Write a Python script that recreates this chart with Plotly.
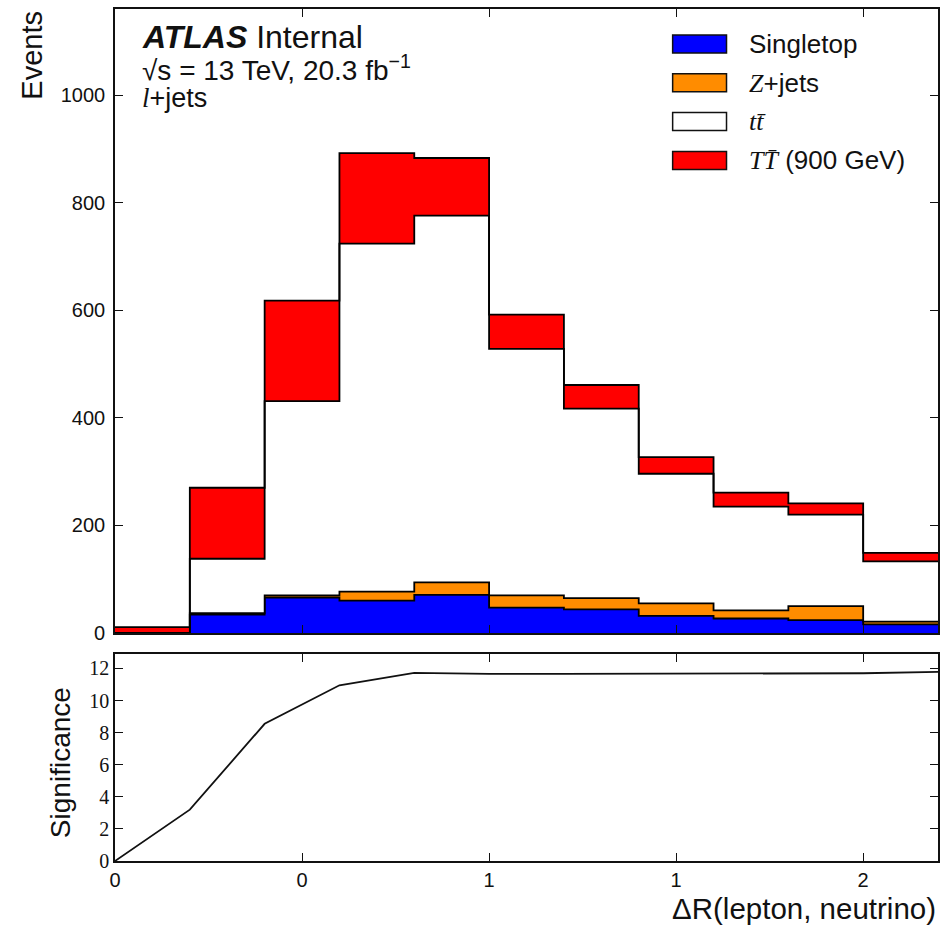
import numpy as np
import plotly.graph_objects as go

# Binning in Delta R(lepton, neutrino)
bin_edges = [0.0, 0.2, 0.4, 0.6, 0.8, 1.0, 1.2, 1.4, 1.6, 1.8, 2.0, 2.2]

# Per-bin event yields, stacked bottom to top
singletop = [0, 34, 66, 60, 71, 47, 44, 32, 27, 24, 16]
zjets = [0, 3, 4, 17, 23, 23, 21, 23, 15, 26, 5]
ttbar = [0, 101, 361, 647, 682, 458, 352, 241, 193, 170, 112]
signal_tt900 = [11, 132, 187, 168, 107, 64, 44, 31, 26, 21, 16]

# Significance scan evaluated at the bin edges
sig_x = [0.0, 0.2, 0.4, 0.6, 0.8, 1.0, 1.2, 1.4, 1.6, 1.8, 2.0, 2.2]
sig_y = [0.0, 3.2, 8.55, 10.95, 11.72, 11.66, 11.66, 11.67, 11.68, 11.69, 11.70, 11.78]

x_ticks = [0.0, 0.5, 1.0, 1.5, 2.0]
x_ticktext = ["0", "0", "1", "1", "2"]
events_ticks = [0, 200, 400, 600, 800, 1000]
sig_ticks = [0, 2, 4, 6, 8, 10, 12]

serif = "Liberation Serif"
sans = "Liberation Sans"

layers = [
    ("Singletop", singletop, "#0000ff"),
    ("<span style='font-family:Liberation Serif;font-style:italic'>Z</span>+jets", zjets, "#ff8c00"),
    ("<span style='font-family:Liberation Serif;font-style:italic'>tt\u0304</span>", ttbar, "#ffffff"),
    ("<span style='font-family:Liberation Serif;font-style:italic'>TT\u0304</span> (900 GeV)", signal_tt900, "#ff0000"),
]

W, H = 943, 928
ML, MR, MT, MB = 115, 3, 9, 67
PW, PH = W - ML - MR, H - MT - MB


def px(xpix):
    return (xpix - ML) / PW


def py(ypix):
    return (H - MB - ypix) / PH


fig = go.Figure()

# Stacked step-filled histograms
cum = np.zeros(len(singletop))
for i, (name, vals, color) in enumerate(layers):
    cum = cum + np.asarray(vals, dtype=float)
    ys = list(cum) + [cum[-1]]
    fig.add_trace(go.Scatter(
        x=bin_edges, y=ys, mode="lines",
        line=dict(shape="hv", color="black", width=1.8),
        fill="tozeroy" if i == 0 else "tonexty",
        fillcolor=color, showlegend=False, hoverinfo="skip",
        xaxis="x", yaxis="y",
    ))

# Significance curve
fig.add_trace(go.Scatter(
    x=sig_x, y=sig_y, mode="lines",
    line=dict(color="#111111", width=1.8),
    showlegend=False, xaxis="x2", yaxis="y2",
))

axis_common = dict(
    showline=True, linecolor="#111111", linewidth=1.6, mirror="ticks",
    ticks="inside", ticklen=8, tickwidth=1.2, tickcolor="#111111",
    showgrid=False, zeroline=False,
)

fig.update_layout(
    width=W, height=H,
    margin=dict(l=ML, r=MR, t=MT, b=MB),
    paper_bgcolor="white", plot_bgcolor="white",
    xaxis=dict(domain=[0, 1], anchor="y", range=[0, 2.2],
               tickvals=x_ticks, showticklabels=False, **axis_common),
    yaxis=dict(domain=[py(633), 1], anchor="x", range=[0, 1160],
               tickvals=events_ticks, ticklabelstandoff=4,
               tickfont=dict(family=sans, size=20, color="#111111"),
               **axis_common),
    xaxis2=dict(domain=[0, 1], anchor="y2", range=[0, 2.2],
                tickvals=x_ticks, ticktext=x_ticktext,
                tickfont=dict(family=sans, size=20, color="#111111"),
                **axis_common),
    yaxis2=dict(domain=[0, py(654)], anchor="x2", range=[0, 12.9],
                tickvals=sig_ticks,
                tickfont=dict(family=serif, size=20, color="#111111"),
                **axis_common),
    font=dict(family=sans, color="#111111"),
)

annotations = [
    dict(x=px(31), y=1, xref="paper", yref="paper", xanchor="center", yanchor="top",
         text="Events", textangle=-90, showarrow=False,
         font=dict(family=sans, size=29)),
    dict(x=px(60), y=py(763), xref="paper", yref="paper", xanchor="center", yanchor="middle",
         text="Significance", textangle=-90, showarrow=False,
         font=dict(family=sans, size=28)),
    dict(x=1, y=py(908), xref="paper", yref="paper", xanchor="right", yanchor="middle",
         text="\u0394R(lepton, neutrino)", showarrow=False,
         font=dict(family=sans, size=29.5)),
    dict(x=px(140), y=py(37), xref="paper", yref="paper", xanchor="left", yanchor="middle",
         text="<b><i>ATLAS</i></b> Internal", showarrow=False,
         font=dict(family=sans, size=32)),
    dict(x=px(140), y=py(68), xref="paper", yref="paper", xanchor="left", yanchor="middle",
         text="\u221as = 13 TeV, 20.3 fb<sup>\u22121</sup>", showarrow=False,
         font=dict(family=sans, size=28)),
    dict(x=px(140), y=py(98), xref="paper", yref="paper", xanchor="left", yanchor="middle",
         text="<span style='font-family:Liberation Serif;font-style:italic'>l</span>+jets",
         showarrow=False, font=dict(family=sans, size=27)),
]

# Legend: colour patch plus label for each stacked component
shapes = []
leg_y0 = 44
leg_dy = 38.8
for k, (name, vals, color) in enumerate(layers):
    yc = leg_y0 + k * leg_dy
    shapes.append(dict(type="rect", xref="paper", yref="paper",
                       x0=px(674), x1=px(728), y0=py(yc + 9), y1=py(yc - 9),
                       fillcolor=color, line=dict(color="#111111", width=1.5)))
    annotations.append(dict(x=px(749), y=py(yc), xref="paper", yref="paper",
                            xanchor="left", yanchor="middle", text=name,
                            showarrow=False, font=dict(family=sans, size=26)))

fig.update_layout(annotations=annotations, shapes=shapes)

fig.write_html("out.html")
